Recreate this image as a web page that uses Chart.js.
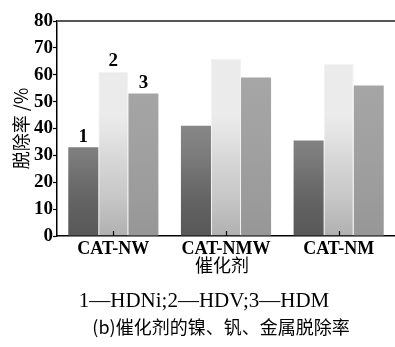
<!DOCTYPE html>
<html>
<head>
<meta charset="utf-8">
<script src="https://cdn.jsdelivr.net/npm/chart.js@4/dist/chart.umd.min.js"></script>
<style>
  body { margin: 0; background: #fff; }
  #wrap { width: 395px; height: 347px; }
</style>
</head>
<body>
<div id="wrap"><canvas id="c" width="395" height="347"></canvas></div>
<script>
// data
const categories = ['CAT-NW', 'CAT-NMW', 'CAT-NM'];
const hdni = [33, 41, 35.5];
const hdv = [61, 66, 64];
const hdm = [53, 59, 56];
const barLabels = ['1', '2', '3'];
const yTicks = [0, 10, 20, 30, 40, 50, 60, 70, 80];

const serifBold = 'bold 19px "Liberation Serif", "DejaVu Serif", serif';
const cjk = '"Noto Sans CJK SC", sans-serif';

// vertical gradient over the chart area, stops given as value -> colour
function makeGrad(chart, stops) {
    const area = chart.chartArea;
    if (!area) return '#888';
    const y = chart.scales.y;
    const g = chart.ctx.createLinearGradient(0, y.getPixelForValue(0), 0, y.getPixelForValue(80));
    stops.forEach(s => g.addColorStop(s[0] / 80, s[1]));
    return g;
}

const grad1 = [[0, '#585858'], [10, '#606060'], [20, '#6c6c6c'], [30, '#7c7c7c'], [40, '#868686'], [80, '#8a8a8a']];
const grad2 = [[0, '#b0b0b0'], [5, '#b8b8b8'], [10, '#c0c0c0'], [15, '#c8c8c8'], [20, '#cdcdcd'], [25, '#d3d3d3'], [30, '#d9d9d9'], [35, '#e0e0e0'], [40, '#e6e6e6'], [45, '#ebebeb'], [80, '#ececec']];
const grad3 = [[0, '#979797'], [30, '#a0a0a0'], [80, '#aaaaaa']];

const decor = {
    id: 'decor',
    afterDraw(chart) {
        const ctx = chart.ctx;
        const a = chart.chartArea;
        const xs = chart.scales.x;
        ctx.save();
        // top frame line
        ctx.strokeStyle = '#555';
        ctx.lineWidth = 2;
        ctx.beginPath();
        ctx.moveTo(a.left, a.top);
        ctx.lineTo(a.right, a.top);
        ctx.stroke();
        // inward ticks on x axis
        ctx.strokeStyle = '#000';
        ctx.lineWidth = 1.2;
        categories.forEach((c, i) => {
            const px = Math.round(xs.getPixelForValue(i)) + 0.5;
            ctx.beginPath();
            ctx.moveTo(px, a.bottom);
            ctx.lineTo(px, a.bottom - 5);
            ctx.stroke();
        });
        // series numbers above the first group
        ctx.fillStyle = '#000';
        ctx.font = serifBold;
        ctx.textAlign = 'center';
        ctx.textBaseline = 'bottom';
        chart.data.datasets.forEach((ds, i) => {
            const bar = chart.getDatasetMeta(i).data[0];
            ctx.fillText(barLabels[i], bar.x, bar.y - 1);
        });
        // axis titles
        ctx.font = '18px ' + cjk;
        ctx.textBaseline = 'middle';
        ctx.fillText('催化剂', (a.left + a.right) / 2 - 4, 265);
        ctx.save();
        ctx.translate(21, (a.top + a.bottom) / 2);
        ctx.rotate(-Math.PI / 2);
        ctx.fillText('脱除率 /%', 0, 0);
        ctx.restore();
        // legend line and caption
        ctx.font = '21px "Liberation Serif", serif';
        ctx.fillText('1—HDNi;2—HDV;3—HDM', 204, 301);
        ctx.font = '18px ' + cjk;
        ctx.fillText('(b)催化剂的镍、钒、金属脱除率', 221, 327);
        ctx.restore();
    }
};

new Chart(document.getElementById('c'), {
    type: 'bar',
    data: {
        labels: categories,
        datasets: [
            { label: 'HDNi', data: hdni, backgroundColor: ctx => makeGrad(ctx.chart, grad1) },
            { label: 'HDV', data: hdv, backgroundColor: ctx => makeGrad(ctx.chart, grad2), borderColor: '#f2f2f2', borderWidth: 1 },
            { label: 'HDM', data: hdm, backgroundColor: ctx => makeGrad(ctx.chart, grad3) }
        ]
    },
    options: {
        responsive: false,
        animation: false,
        layout: { padding: { top: 21, right: 0, bottom: 0, left: 0 } },
        datasets: {
            bar: { categoryPercentage: 0.8, barPercentage: 1.0 }
        },
        plugins: {
            legend: { display: false },
            tooltip: { enabled: false }
        },
        scales: {
            x: {
                grid: { display: false, drawTicks: false },
                border: { color: '#000', width: 1.5 },
                ticks: {
                    color: '#000',
                    padding: 3,
                    font: { family: '"Liberation Serif", serif', weight: 'bold', size: 18 }
                },
                afterFit(scale) { scale.height = 111; }
            },
            y: {
                min: 0,
                max: 80,
                afterBuildTicks(scale) { scale.ticks = yTicks.map(v => ({ value: v })); },
                grid: { drawOnChartArea: false, tickLength: 4, color: '#000', tickWidth: 1.2 },
                border: { color: '#000', width: 1.5 },
                ticks: {
                    color: '#000',
                    padding: 0,
                    font: { family: '"Liberation Serif", serif', weight: 'bold', size: 19 }
                },
                afterFit(scale) { scale.width = 57; }
            }
        }
    },
    plugins: [decor]
});
</script>
</body>
</html>
